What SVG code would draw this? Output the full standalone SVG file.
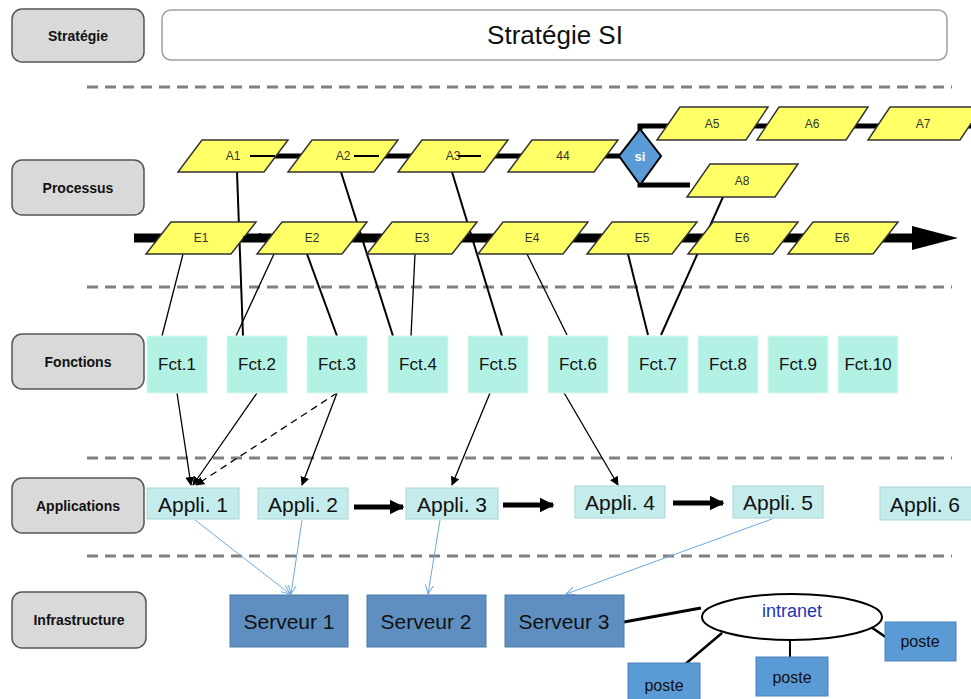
<svg xmlns="http://www.w3.org/2000/svg" width="971" height="699" viewBox="0 0 971 699">
<style>
text{font-family:"Liberation Sans",Arial,sans-serif;text-anchor:middle;dominant-baseline:central}
.lbl rect{fill:#D9D9D9;stroke:#555;stroke-width:1.5}
.lbl text{font-size:14px;font-weight:bold;fill:#111}
.dash{stroke:#808080;stroke-width:3;stroke-dasharray:11 7;fill:none}
.para polygon{fill:#FFFF66;stroke:#333;stroke-width:1.5}
.para text{font-size:12px;fill:#333}
.fct rect{fill:#B3F1E4;stroke:#D8F7F0;stroke-width:1}
.fct text{font-size:17px;fill:#111}
.app rect{fill:#C4ECEC;stroke:#A9D4D4;stroke-width:1}
.app text{font-size:21px;fill:#111}
.srv rect{fill:#5F8FC0;stroke:#4E7BA8;stroke-width:1}
.srv text{font-size:21px;fill:#111}
.pst rect{fill:#5B9BD5;stroke:#4A82B5;stroke-width:1}
.pst text{font-size:16px;fill:#111}
.thin{stroke:#000;stroke-width:1.3;fill:none}
.med{stroke:#000;stroke-width:2;fill:none}
.blue{stroke:#6FA8DC;stroke-width:1;fill:none}
</style>
<defs>
<marker id="ah" viewBox="0 0 10 10" refX="9" refY="5" markerWidth="9" markerHeight="9" markerUnits="userSpaceOnUse" orient="auto"><path d="M0,0 L10,5 L0,10 z" fill="#000"/></marker>
<marker id="bh" viewBox="0 0 10 10" refX="9" refY="5" markerWidth="10" markerHeight="10" markerUnits="userSpaceOnUse" orient="auto"><path d="M0,1 L9,5 L0,9" fill="none" stroke="#6FA8DC" stroke-width="1"/></marker>
<marker id="th" viewBox="0 0 10 10" refX="9" refY="5" markerWidth="3" markerHeight="3" orient="auto"><path d="M0,0 L10,5 L0,10 z" fill="#000"/></marker>
</defs>

<!-- separators -->
<g id="separators">
<line class="dash" x1="87" y1="87" x2="952" y2="87"/>
<line class="dash" x1="87" y1="287" x2="952" y2="287"/>
<line class="dash" x1="87" y1="458" x2="952" y2="458"/>
<line class="dash" x1="87" y1="556" x2="952" y2="556"/>
</g>

<!-- row labels -->
<g id="lbl-strategie" class="lbl"><rect x="12" y="9" width="132" height="53" rx="10"/><text x="78" y="35.5">Stratégie</text></g>
<g id="lbl-processus" class="lbl"><rect x="12" y="160" width="132" height="55" rx="10"/><text x="78" y="187.5">Processus</text></g>
<g id="lbl-fonctions" class="lbl"><rect x="12" y="334" width="132" height="55" rx="10"/><text x="78" y="361.5">Fonctions</text></g>
<g id="lbl-applications" class="lbl"><rect x="12" y="478" width="132" height="55" rx="10"/><text x="78" y="505.5">Applications</text></g>
<g id="lbl-infrastructure" class="lbl"><rect x="12" y="592" width="134" height="56" rx="10"/><text x="79" y="620">Infrastructure</text></g>

<g id="strategie-si"><rect x="162" y="10" width="785" height="50" rx="9" fill="#fff" stroke="#A0A0A0" stroke-width="1.5"/><text x="555" y="35" font-size="26" fill="#111">Stratégie SI</text></g>

<!-- connectors -->
<g id="connectors">
<!-- process flow lines -->
<line x1="275" y1="156" x2="622" y2="156" stroke="#000" stroke-width="5"/>
<path d="M640,130 L640,126 L971,126" stroke="#000" stroke-width="5" fill="none"/>
<path d="M640,184 L640,185 L690,185" stroke="#000" stroke-width="5" fill="none"/>
<line x1="134" y1="238" x2="915" y2="238" stroke="#000" stroke-width="9"/>
<polygon points="912,226 958,238 912,250" fill="#000"/>
<!-- process to functions -->
<line class="med" x1="237" y1="172" x2="243" y2="336"/>
<line class="med" x1="341" y1="172" x2="393" y2="336"/>
<line class="med" x1="452" y1="172" x2="502" y2="336"/>
<line class="thin" x1="183" y1="254" x2="162" y2="336"/>
<line class="thin" x1="274" y1="254" x2="236" y2="336"/>
<line class="med" x1="307" y1="254" x2="337" y2="336"/>
<line class="thin" x1="415" y1="254" x2="411" y2="336"/>
<line class="thin" x1="527" y1="254" x2="567" y2="335"/>
<line class="med" x1="628" y1="254" x2="648" y2="335"/>
<line class="med" x1="723" y1="197" x2="661" y2="335"/>
<!-- functions to applications -->
<line class="thin" x1="177" y1="393" x2="191" y2="485" marker-end="url(#ah)"/>
<line class="thin" x1="257" y1="393" x2="193" y2="485" marker-end="url(#ah)"/>
<line class="thin" x1="337" y1="393" x2="196" y2="485" stroke-dasharray="7 5" marker-end="url(#ah)"/>
<line class="thin" x1="337" y1="393" x2="302" y2="485" marker-end="url(#ah)"/>
<line class="thin" x1="490" y1="393" x2="452" y2="485" marker-end="url(#ah)"/>
<line class="thin" x1="563" y1="391" x2="618" y2="485" marker-end="url(#ah)"/>
<!-- application flow -->
<line x1="354" y1="507" x2="403" y2="507" stroke="#000" stroke-width="5" marker-end="url(#th)"/>
<line x1="503" y1="505" x2="553" y2="505" stroke="#000" stroke-width="5" marker-end="url(#th)"/>
<line x1="673" y1="503" x2="723" y2="503" stroke="#000" stroke-width="5" marker-end="url(#th)"/>
<!-- applications to servers -->
<line class="blue" x1="195" y1="520" x2="290" y2="594" marker-end="url(#bh)"/>
<line class="blue" x1="302" y1="520" x2="291" y2="594" marker-end="url(#bh)"/>
<line class="blue" x1="440" y1="520" x2="428" y2="594" marker-end="url(#bh)"/>
<line class="blue" x1="772" y1="519" x2="566" y2="594" marker-end="url(#bh)"/>
<!-- network -->
<line x1="624" y1="622" x2="701" y2="608" stroke="#000" stroke-width="3"/>
<line x1="871" y1="627" x2="887" y2="638" stroke="#000" stroke-width="2.5"/>
<line x1="790" y1="638" x2="790" y2="657" stroke="#000" stroke-width="2"/>
<line x1="722" y1="633" x2="683" y2="666" stroke="#000" stroke-width="2.5"/>
</g>

<!-- process shapes -->
<g id="A1" class="para"><polygon points="202,140 288,140 264,172 178,172"/><text x="233" y="156">A1</text><line x1="250" y1="156" x2="275" y2="156" stroke="#000" stroke-width="2"/></g>
<g id="A2" class="para"><polygon points="312,140 398,140 374,172 288,172"/><text x="343" y="156">A2</text><line x1="354" y1="156" x2="379" y2="156" stroke="#000" stroke-width="2"/></g>
<g id="A3" class="para"><polygon points="422,140 508,140 484,172 398,172"/><text x="453" y="156">A3</text><line x1="458" y1="156" x2="481" y2="156" stroke="#000" stroke-width="2"/></g>
<g id="A44" class="para"><polygon points="532,140 618,140 594,172 508,172"/><text x="563" y="156">44</text></g>
<g id="si"><polygon points="640,129 661,156 640,185 619,156" fill="#5B9BD5" stroke="#000" stroke-width="2"/><text x="640" y="156" font-size="13" font-weight="bold" fill="#fff">si</text></g>
<g id="A5" class="para"><polygon points="680,107 768,107 746,140 657,140"/><text x="712" y="124">A5</text></g>
<g id="A6" class="para"><polygon points="779,107 868,107 846,140 757,140"/><text x="812" y="124">A6</text></g>
<g id="A7" class="para"><polygon points="890,107 982,107 960,140 868,140"/><text x="923" y="124">A7</text></g>
<g id="A8" class="para"><polygon points="710,164 798,164 775,197 687,197"/><text x="742" y="181">A8</text></g>

<g id="E1" class="para"><polygon points="171,222 256,222 231,254 146,254"/><text x="201" y="238">E1</text></g>
<g id="E2" class="para"><polygon points="282,222 367,222 342,254 257,254"/><text x="312" y="238">E2</text></g>
<g id="E3" class="para"><polygon points="392,222 477,222 452,254 367,254"/><text x="422" y="238">E3</text></g>
<g id="E4" class="para"><polygon points="503,222 588,222 563,254 478,254"/><text x="532" y="238">E4</text></g>
<g id="E5" class="para"><polygon points="612,222 697,222 672,254 587,254"/><text x="642" y="238">E5</text></g>
<g id="E6" class="para"><polygon points="713,222 798,222 773,254 688,254"/><text x="742" y="238">E6</text></g>
<g id="E6b" class="para"><polygon points="813,222 898,222 873,254 788,254"/><text x="842" y="238">E6</text></g>
<line x1="243" y1="237" x2="267" y2="237" stroke="#000" stroke-width="1.5" marker-end="url(#ah)"/>

<!-- functions -->
<g id="fct1" class="fct"><rect x="147" y="336" width="60" height="57"/><text x="177" y="364">Fct.1</text></g>
<g id="fct2" class="fct"><rect x="227" y="336" width="60" height="57"/><text x="257" y="364">Fct.2</text></g>
<g id="fct3" class="fct"><rect x="307" y="336" width="60" height="57"/><text x="337" y="364">Fct.3</text></g>
<g id="fct4" class="fct"><rect x="388" y="336" width="60" height="57"/><text x="418" y="364">Fct.4</text></g>
<g id="fct5" class="fct"><rect x="468" y="336" width="60" height="57"/><text x="498" y="364">Fct.5</text></g>
<g id="fct6" class="fct"><rect x="548" y="336" width="60" height="57"/><text x="578" y="364">Fct.6</text></g>
<g id="fct7" class="fct"><rect x="628" y="336" width="60" height="57"/><text x="658" y="364">Fct.7</text></g>
<g id="fct8" class="fct"><rect x="698" y="336" width="60" height="57"/><text x="728" y="364">Fct.8</text></g>
<g id="fct9" class="fct"><rect x="768" y="336" width="60" height="57"/><text x="798" y="364">Fct.9</text></g>
<g id="fct10" class="fct"><rect x="838" y="336" width="60" height="57"/><text x="868" y="364">Fct.10</text></g>

<!-- applications -->
<g id="app1" class="app"><rect x="147" y="488" width="92" height="31"/><text x="193" y="504">Appli. 1</text></g>
<g id="app2" class="app"><rect x="258" y="488" width="90" height="31"/><text x="303" y="504">Appli. 2</text></g>
<g id="app3" class="app"><rect x="406" y="488" width="92" height="31"/><text x="452" y="504">Appli. 3</text></g>
<g id="app4" class="app"><rect x="575" y="486" width="90" height="32"/><text x="620" y="502">Appli. 4</text></g>
<g id="app5" class="app"><rect x="733" y="486" width="90" height="32"/><text x="778" y="502">Appli. 5</text></g>
<g id="app6" class="app"><rect x="880" y="487" width="92" height="33"/><text x="925" y="504">Appli. 6</text></g>

<!-- infrastructure -->
<g id="srv1" class="srv"><rect x="230" y="595" width="118" height="52"/><text x="289" y="621">Serveur 1</text></g>
<g id="srv2" class="srv"><rect x="367" y="595" width="119" height="52"/><text x="426" y="621">Serveur 2</text></g>
<g id="srv3" class="srv"><rect x="505" y="595" width="119" height="52"/><text x="564" y="621">Serveur 3</text></g>
<g id="intranet"><ellipse cx="792" cy="617" rx="90" ry="23" fill="#fff" stroke="#000" stroke-width="2"/><text x="792" y="611" font-size="18" fill="#2436B8">intranet</text></g>
<g id="poste1" class="pst"><rect x="628" y="663" width="72" height="40"/><text x="664" y="685">poste</text></g>
<g id="poste2" class="pst"><rect x="756" y="657" width="72" height="39"/><text x="792" y="677">poste</text></g>
<g id="poste3" class="pst"><rect x="885" y="622" width="71" height="39"/><text x="920" y="641">poste</text></g>
</svg>
